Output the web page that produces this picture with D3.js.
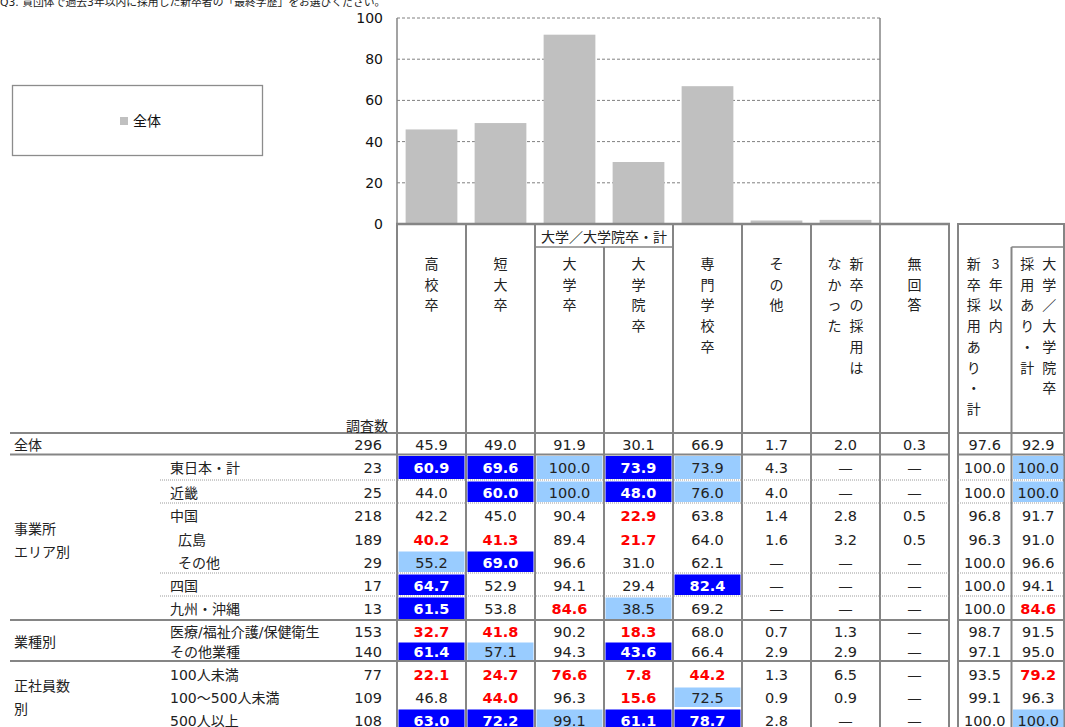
<!DOCTYPE html>
<html><head><meta charset="utf-8">
<script src="https://cdn.jsdelivr.net/npm/d3@7"></script>
<style>
body{margin:0;background:#fff;}
svg{display:block;font-family:"DejaVu Sans","Noto Sans CJK JP",sans-serif;}
</style></head>
<body><svg id="c" width="1065" height="727"></svg>
<script>
// ---------- data ----------
const title = "Q3. 貴団体で過去3年以内に採用した新卒者の「最終学歴」をお選びください。";
const legendLabel = "全体";
const yTicks = [0, 20, 40, 60, 80, 100];
const barCategories = ["高校卒", "短大卒", "大学卒", "大学院卒", "専門学校卒", "その他", "新卒の採用はなかった"];
const barValues = [45.9, 49.0, 91.9, 30.1, 66.9, 1.7, 2.0];

// header text of table columns; each entry = vertical text lines, read right-to-left
const mainHeaders = [["高校卒"], ["短大卒"], ["大学卒"], ["大学院卒"], ["専門学校卒"], ["その他"], ["新卒の採用は", "なかった"], ["無回答"]];
const sideHeaders = [["3年以内", "新卒採用あり・計"], ["大学／大学院卒", "採用あり・計"]];
const groupHeader = "大学／大学院卒・計";
const countHeader = "調査数";

const groupLabels = [["全体"], ["事業所", "エリア別"], ["業種別"], ["正社員数", "別"]];
const rowLabels = ["全体", "東日本・計", "近畿", "中国", "広島", "その他", "四国", "九州・沖縄",
  "医療/福祉介護/保健衛生", "その他業種", "100人未満", "100～500人未満", "500人以上"];
const rowCounts = [296, 23, 25, 218, 189, 29, 17, 13, 153, 140, 77, 109, 108];
const rowValues = [
  [45.9, 49.0, 91.9, 30.1, 66.9, 1.7, 2.0, 0.3, 97.6, 92.9],
  [60.9, 69.6, 100.0, 73.9, 73.9, 4.3, null, null, 100.0, 100.0],
  [44.0, 60.0, 100.0, 48.0, 76.0, 4.0, null, null, 100.0, 100.0],
  [42.2, 45.0, 90.4, 22.9, 63.8, 1.4, 2.8, 0.5, 96.8, 91.7],
  [40.2, 41.3, 89.4, 21.7, 64.0, 1.6, 3.2, 0.5, 96.3, 91.0],
  [55.2, 69.0, 96.6, 31.0, 62.1, null, null, null, 100.0, 96.6],
  [64.7, 52.9, 94.1, 29.4, 82.4, null, null, null, 100.0, 94.1],
  [61.5, 53.8, 84.6, 38.5, 69.2, null, null, null, 100.0, 84.6],
  [32.7, 41.8, 90.2, 18.3, 68.0, 0.7, 1.3, null, 98.7, 91.5],
  [61.4, 57.1, 94.3, 43.6, 66.4, 2.9, 2.9, null, 97.1, 95.0],
  [22.1, 24.7, 76.6, 7.8, 44.2, 1.3, 6.5, null, 93.5, 79.2],
  [46.8, 44.0, 96.3, 15.6, 72.5, 0.9, 0.9, null, 99.1, 96.3],
  [63.0, 72.2, 99.1, 61.1, 78.7, 2.8, null, null, 100.0, 100.0]
];
// significance vs 全体: "++" much higher, "+" higher, "-" lower, "" none
const rowSignif = [
  ["", "", "", "", "", "", "", "", "", ""],
  ["++", "++", "+", "++", "+", "", "", "", "", "+"],
  ["", "++", "+", "++", "+", "", "", "", "", "+"],
  ["", "", "", "-", "", "", "", "", "", ""],
  ["-", "-", "", "-", "", "", "", "", "", ""],
  ["+", "++", "", "", "", "", "", "", "", ""],
  ["++", "", "", "", "++", "", "", "", "", ""],
  ["++", "", "-", "+", "", "", "", "", "", "-"],
  ["-", "-", "", "-", "", "", "", "", "", ""],
  ["++", "+", "", "++", "", "", "", "", "", ""],
  ["-", "-", "-", "-", "-", "", "", "", "", "-"],
  ["", "-", "", "-", "+", "", "", "", "", ""],
  ["++", "++", "+", "++", "++", "", "", "", "", "+"]
];

// ---------- layout ----------
const svg = d3.select("#c");
const grey = "#858585";
const plot = {left: 397, right: 880, top: 18, bottom: 224};
const tableLeft = 397, tableRight = 949, sideLeft = 958, sideRight = 1064;
const rowBounds = [433, 454.5, 480, 503, 527, 550, 573, 596, 620, 641, 661, 686, 708, 732];
const rowIndent = [0, 0, 0, 0, 8, 8, 0, 0, 0, 0, 0, 0, 0];
const dottedAfter = [1, 2, 5, 6];
const solidAfter = [0, 7, 9];
const groupRows = [[0, 0], [1, 7], [8, 9], [10, 12]];
const groupShift = [0, 2, 0, 0];

// title
svg.append("text").attr("x", 0).attr("y", 6).attr("font-size", 10.8).attr("fill", "#222").text(title);

// legend
svg.append("rect").attr("x", 12.5).attr("y", 85.5).attr("width", 250).attr("height", 70)
  .attr("fill", "#fff").attr("stroke", "#8c8c8c").attr("stroke-width", 1.3);
svg.append("rect").attr("x", 120).attr("y", 117).attr("width", 8).attr("height", 8).attr("fill", "#c0c0c0");
svg.append("text").attr("x", 133).attr("y", 121).attr("dominant-baseline", "central")
  .attr("font-size", 14).attr("fill", "#111").text(legendLabel);

// chart
const x = d3.scaleBand().domain(barCategories).range([plot.left, plot.right]).paddingInner(0.25).paddingOuter(0.125);
const y = d3.scaleLinear().domain([0, 100]).range([plot.bottom, plot.top]);

svg.append("g").selectAll("line").data(yTicks.filter(d => d > 0)).join("line")
  .attr("x1", plot.left).attr("x2", plot.right).attr("y1", d => y(d)).attr("y2", d => y(d))
  .attr("stroke", "#808080").attr("stroke-dasharray", "3,2").attr("stroke-width", 1);

svg.append("g").selectAll("rect").data(barValues).join("rect")
  .attr("x", (d, i) => x(barCategories[i])).attr("width", x.bandwidth())
  .attr("y", d => y(d)).attr("height", d => y(0) - y(d)).attr("fill", "#c0c0c0");

const yAxis = svg.append("g").attr("transform", `translate(${plot.left},0)`)
  .call(d3.axisLeft(y).tickValues(yTicks).tickSize(0).tickPadding(14).tickFormat(d3.format("d")));
yAxis.select(".domain").remove();
yAxis.selectAll("text").attr("font-size", 14).attr("fill", "#111").attr("font-family", "DejaVu Sans");

svg.append("line").attr("x1", plot.left).attr("x2", plot.left).attr("y1", plot.top).attr("y2", plot.bottom).attr("stroke", grey).attr("stroke-width", 1.5);
svg.append("line").attr("x1", plot.right).attr("x2", plot.right).attr("y1", plot.top).attr("y2", plot.bottom).attr("stroke", grey).attr("stroke-width", 1.5);

// table columns
const colKeys = d3.range(mainHeaders.length);
const cx = d3.scaleBand().domain(colKeys).range([tableLeft, tableRight]);
const sx = d3.scaleBand().domain(d3.range(sideHeaders.length)).range([sideLeft, sideRight + 1]);
const colX = i => i < 8 ? cx(i) : sx(i - 8);
const colW = i => i < 8 ? cx.bandwidth() : sx.bandwidth();

const tbottom = 740;
const lines = svg.append("g");
function hline(y0, x1, x2, w, dash) {
  lines.append("line").attr("x1", x1).attr("x2", x2).attr("y1", y0).attr("y2", y0)
    .attr("stroke", dash ? "#9a9a9a" : grey).attr("stroke-width", w).attr("stroke-dasharray", dash || null);
}
function vline(x0, y1, y2, w) {
  lines.append("line").attr("x1", x0).attr("x2", x0).attr("y1", y1).attr("y2", y2).attr("stroke", grey).attr("stroke-width", w);
}

// cell fills
const cells = svg.append("g");
rowValues.forEach((row, r) => {
  row.forEach((v, c) => {
    const s = rowSignif[r][c];
    if (s === "++" || s === "+") {
      cells.append("rect").attr("x", colX(c) + 1.5).attr("width", colW(c) - 3)
        .attr("y", rowBounds[r] + 1.5).attr("height", rowBounds[r + 1] - rowBounds[r] - 2.5)
        .attr("fill", s === "++" ? "#0000ff" : "#99ccff");
    }
  });
});

// header text
const headerTop = 263, charStep = 20.7;
function verticalText(lines2, cxm) {
  const n = lines2.length, gap = 22;
  lines2.forEach((ln, k) => {
    const xx = cxm + ((n - 1) / 2 - k) * gap;
    Array.from(ln).forEach((ch, j) => {
      svg.append("text").attr("x", xx).attr("y", headerTop + j * charStep)
        .attr("text-anchor", "middle").attr("dominant-baseline", "central")
        .attr("font-size", 14).attr("fill", "#222").attr("font-family", "Noto Sans CJK JP").text(ch);
    });
  });
}
mainHeaders.forEach((h, i) => verticalText(h, cx(i) + cx.bandwidth() / 2));
sideHeaders.forEach((h, i) => verticalText(h, sx(i) + sx.bandwidth() / 2));
svg.append("text").attr("x", cx(3)).attr("y", 236).attr("text-anchor", "middle").attr("dominant-baseline", "central")
  .attr("font-size", 14).attr("fill", "#222").attr("font-family", "Noto Sans CJK JP").text(groupHeader);
svg.append("text").attr("x", 388).attr("y", 425).attr("text-anchor", "end").attr("dominant-baseline", "central")
  .attr("font-size", 14).attr("fill", "#222").attr("font-family", "Noto Sans CJK JP").text(countHeader);

// row labels
const mid = r => (rowBounds[r] + rowBounds[r + 1]) / 2 + 1;
groupLabels.forEach((g, gi) => {
  const [a, b] = groupRows[gi];
  const cy = (rowBounds[a] + rowBounds[b + 1]) / 2 + groupShift[gi];
  g.forEach((t, k) => {
    svg.append("text").attr("x", 14).attr("y", cy + (k - (g.length - 1) / 2) * 23 + 1)
      .attr("dominant-baseline", "central").attr("font-size", 14).attr("fill", "#222").text(t);
  });
});
rowLabels.forEach((t, r) => {
  if (r === 0) return;
  svg.append("text").attr("x", 170 + rowIndent[r]).attr("y", mid(r)).attr("dominant-baseline", "central")
    .attr("font-size", 14).attr("fill", "#222").text(t);
});
rowCounts.forEach((n, r) => {
  svg.append("text").attr("x", 382).attr("y", mid(r)).attr("text-anchor", "end").attr("dominant-baseline", "central")
    .attr("font-size", 14.5).attr("fill", "#222").text(n);
});

// values
rowValues.forEach((row, r) => {
  row.forEach((v, c) => {
    const s = rowSignif[r][c];
    svg.append("text").attr("x", colX(c) + colW(c) / 2).attr("y", mid(r))
      .attr("text-anchor", "middle").attr("dominant-baseline", "central")
      .attr("font-size", 14.5)
      .attr("font-weight", (s === "++" || s === "-") ? "bold" : null)
      .attr("fill", s === "++" ? "#fff" : s === "-" ? "#ff0000" : "#222")
      .text(v === null ? "—" : d3.format(".1f")(v));
  });
});

// grid lines of table
colKeys.forEach(i => { if (i !== 3) vline(cx(i), plot.bottom, tbottom, 2); });
vline(cx(3), 247, tbottom, 2);
vline(tableRight, plot.bottom, tbottom, 2);
vline(sideLeft, plot.bottom, tbottom, 2);
vline(sx(1), 247, tbottom, 2);
vline(sideRight, plot.bottom, tbottom, 2);
hline(plot.bottom, plot.left - 1, tableRight + 1, 2.5);
hline(plot.bottom, sideLeft - 1, sideRight + 1, 2);
hline(247, cx(2), cx(4), 1.5);
hline(247, sx(1), sideRight, 1.5);
hline(rowBounds[0], 10, tableRight, 2);
hline(rowBounds[0], sideLeft, sideRight, 2);
solidAfter.forEach(r => { hline(rowBounds[r + 1], 10, tableRight, 2); hline(rowBounds[r + 1], sideLeft, sideRight, 2); });
dottedAfter.forEach(r => { hline(rowBounds[r + 1], 160, tableRight, 1, "1,1"); hline(rowBounds[r + 1], sideLeft, sideRight, 1, "1,1"); });
</script></body></html>
